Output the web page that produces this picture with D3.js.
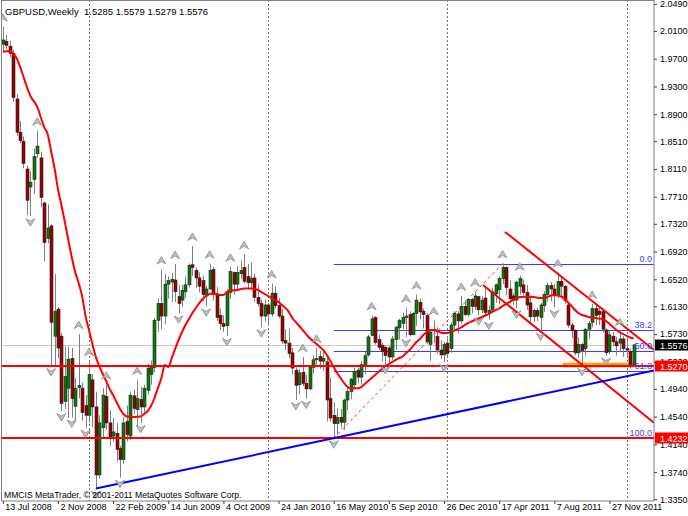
<!DOCTYPE html>
<html><head><meta charset="utf-8">
<script src="https://cdn.jsdelivr.net/npm/d3@7"></script>
<style>
body{margin:0;background:#fff;}
svg{display:block;}
text{font-family:"Liberation Sans",Arial,sans-serif;}
</style>
</head><body>
<svg id="c" width="688" height="516"></svg>
<script>
// ---------- DATA (weekly GBPUSD, first bar = week of 13 Jul 2008) ----------
const opens = [1.9910,1.9950,1.9880,1.9775,1.9120,1.8640,1.8510,1.8110,1.7850,1.7960,1.8330,1.8270,1.7620,1.7110,1.7290,1.5700,1.6090,1.5700,1.4760,1.4950,
1.5380,1.4690,1.4960,1.4950,1.4700,1.4560,1.5070,1.4680,1.3700,1.4380,1.4830,1.4450,1.4260,1.4300,1.4080,1.3920,1.4470,1.4260,1.4840,1.4640,
1.4790,1.4680,1.4920,1.5150,1.5250,1.5930,1.6170,1.5990,1.6450,1.6480,1.6510,1.6270,1.6220,1.6340,1.6440,1.6730,1.6650,1.6540,1.6500,1.6280,
1.6380,1.6660,1.6300,1.6000,1.5880,1.5850,1.6330,1.6620,1.6450,1.6600,1.6690,1.6560,1.6470,1.6540,1.6260,1.6170,1.5990,1.6150,1.6020,1.6320,
1.6140,1.5990,1.5640,1.5600,1.5460,1.5210,1.5000,1.5180,1.5020,1.4940,1.5250,1.5360,1.5410,1.5340,1.5330,1.4800,1.4560,1.4440,1.4530,1.4460,
1.4780,1.4900,1.5000,1.5210,1.5110,1.5280,1.5430,1.5710,1.5970,1.5650,1.5570,1.5540,1.5530,1.5400,1.5650,1.5820,1.5880,1.5970,1.6010,1.5720,
1.6030,1.6190,1.6060,1.6000,1.5580,1.5800,1.5700,1.5500,1.5430,1.5600,1.5520,1.5860,1.6020,1.5920,1.6130,1.6010,1.6230,1.6130,1.6270,1.6080,
1.6250,1.6040,1.6080,1.6310,1.6370,1.6530,1.6690,1.6380,1.6280,1.6220,1.6420,1.6440,1.6330,1.6180,1.5980,1.6070,1.5970,1.6140,1.6300,1.6430,
1.6380,1.6290,1.6490,1.6420,1.6150,1.5860,1.5780,1.5460,1.5580,1.5520,1.5800,1.5900,1.6100,1.6060,1.6060,1.5790,1.5480,1.5700,1.5620,1.5600,
1.5660,1.5520,1.5480,1.5285];
const highs = [2.0160,2.0040,1.9960,1.9830,1.9190,1.8800,1.8580,1.8160,1.8080,1.8400,1.8660,1.8360,1.7640,1.7600,1.7310,1.6600,1.6120,1.5750,1.5550,1.5550,
1.5530,1.5100,1.5730,1.5030,1.4850,1.5340,1.5150,1.4900,1.4560,1.4950,1.5000,1.4630,1.4520,1.4450,1.4120,1.4530,1.4700,1.4900,1.4930,1.5070,
1.4970,1.5000,1.5300,1.5350,1.5960,1.6240,1.6660,1.6600,1.6560,1.6610,1.6740,1.6440,1.6440,1.6560,1.6750,1.7000,1.6690,1.6620,1.6570,1.6430,
1.6745,1.6700,1.6410,1.6100,1.6000,1.6380,1.6700,1.6630,1.6710,1.6790,1.6880,1.6740,1.6760,1.6600,1.6450,1.6230,1.6230,1.6180,1.6460,1.6420,
1.6250,1.6090,1.5800,1.5810,1.5530,1.5250,1.5230,1.5400,1.5140,1.5280,1.5430,1.5530,1.5490,1.5480,1.5400,1.5100,1.4750,1.4660,1.4650,1.4800,
1.4950,1.5100,1.5250,1.5240,1.5340,1.5470,1.5720,1.6000,1.5990,1.5720,1.5600,1.5560,1.5560,1.5700,1.5850,1.5950,1.6040,1.6110,1.6060,1.6050,
1.6300,1.6240,1.6100,1.6030,1.5790,1.5930,1.5830,1.5640,1.5620,1.5700,1.5900,1.6060,1.6060,1.6280,1.6220,1.6250,1.6250,1.6340,1.6280,1.6280,
1.6400,1.6140,1.6400,1.6460,1.6560,1.6747,1.6710,1.6500,1.6320,1.6500,1.6570,1.6520,1.6440,1.6290,1.6100,1.6110,1.6180,1.6350,1.6470,1.6480,
1.6450,1.6618,1.6560,1.6440,1.6200,1.5890,1.5800,1.5680,1.5600,1.5820,1.5920,1.6165,1.6150,1.6110,1.6090,1.5810,1.5780,1.5760,1.5690,1.5770,
1.5700,1.5670,1.5520,1.5579];
const lows = [1.9790,1.9840,1.9720,1.9080,1.8590,1.8480,1.8120,1.7445,1.7430,1.7750,1.8270,1.7560,1.6780,1.7040,1.5270,1.5260,1.5380,1.4620,1.4650,1.4520,
1.4530,1.4470,1.4800,1.4480,1.4380,1.4450,1.4390,1.3503,1.3650,1.4220,1.4350,1.4110,1.4180,1.3900,1.3660,1.3860,1.4180,1.4200,1.4580,1.4400,
1.4450,1.4600,1.4860,1.5000,1.5180,1.5760,1.5800,1.5870,1.6240,1.6190,1.6190,1.6030,1.6120,1.6250,1.6400,1.6570,1.6400,1.6330,1.6200,1.6130,
1.6370,1.6220,1.5920,1.5790,1.5760,1.5705,1.6240,1.6300,1.6380,1.6530,1.6460,1.6370,1.6400,1.6200,1.6130,1.5830,1.5910,1.5850,1.5980,1.6100,
1.5960,1.5590,1.5500,1.5380,1.5150,1.4780,1.4860,1.4980,1.4800,1.4920,1.5160,1.5290,1.5230,1.5200,1.4470,1.4470,1.4229,1.4270,1.4380,1.4350,
1.4630,1.4790,1.4930,1.5020,1.5000,1.5150,1.5400,1.5700,1.5580,1.5500,1.5340,1.5300,1.5320,1.5360,1.5500,1.5650,1.5800,1.5690,1.5700,1.5720,
1.5850,1.5940,1.5810,1.5590,1.5340,1.5600,1.5450,1.5370,1.5330,1.5400,1.5460,1.5800,1.5740,1.5880,1.5990,1.5980,1.6030,1.6080,1.6000,1.6030,
1.6000,1.5940,1.6040,1.6180,1.6160,1.6450,1.6290,1.6170,1.6150,1.6100,1.6300,1.6290,1.6080,1.5910,1.5910,1.5920,1.5780,1.6050,1.6200,1.6200,
1.6110,1.6250,1.6290,1.6170,1.5820,1.5670,1.5430,1.5390,1.5272,1.5420,1.5660,1.5830,1.5860,1.5860,1.5750,1.5420,1.5440,1.5560,1.5420,1.5480,
1.5400,1.5420,1.5235,1.5279];
const closes = [1.9970,1.9890,1.9775,1.9140,1.8640,1.8520,1.8190,1.7660,1.7920,1.8290,1.8440,1.7700,1.7050,1.7260,1.5900,1.6060,1.5530,1.4730,1.5120,1.5370,
1.4800,1.4950,1.4990,1.4600,1.4560,1.5150,1.4680,1.3700,1.4450,1.4850,1.4450,1.4240,1.4320,1.4070,1.3920,1.4450,1.4280,1.4850,1.4660,1.4800,
1.4680,1.4950,1.5240,1.5260,1.5930,1.6170,1.5990,1.6450,1.6500,1.6520,1.6340,1.6170,1.6360,1.6440,1.6720,1.6690,1.6540,1.6420,1.6300,1.6380,
1.6650,1.6300,1.5970,1.5880,1.5840,1.6330,1.6630,1.6450,1.6620,1.6650,1.6490,1.6470,1.6530,1.6260,1.6170,1.5990,1.6150,1.6020,1.6320,1.6140,
1.5990,1.5630,1.5600,1.5450,1.5240,1.4990,1.5170,1.5020,1.4940,1.5250,1.5360,1.5380,1.5340,1.5380,1.4780,1.4520,1.4440,1.4530,1.4460,1.4780,
1.4900,1.5080,1.5190,1.5110,1.5290,1.5420,1.5690,1.5950,1.5610,1.5540,1.5480,1.5420,1.5400,1.5660,1.5830,1.5930,1.5970,1.5990,1.5720,1.6030,
1.6220,1.6050,1.6010,1.5620,1.5760,1.5780,1.5500,1.5430,1.5580,1.5450,1.5860,1.6030,1.5920,1.6130,1.6010,1.6230,1.6130,1.6280,1.6080,1.6220,
1.6040,1.6070,1.6340,1.6440,1.6530,1.6690,1.6400,1.6240,1.6220,1.6480,1.6530,1.6330,1.6150,1.5980,1.6070,1.5990,1.6150,1.6300,1.6430,1.6380,
1.6290,1.6490,1.6420,1.6210,1.5860,1.5780,1.5460,1.5580,1.5490,1.5800,1.5880,1.6100,1.6000,1.6010,1.5800,1.5460,1.5720,1.5620,1.5560,1.5660,
1.5520,1.5500,1.5290,1.5576];

// moving average (bar index, value)
const maBars = [0,2,3,4,5,7,8,10,11,12,13,14,15,16,17,18,19,20,21,22,23,24,25,26,27,28,29,30,31,32,33,34,35,36,38,40,41,42,43,44,45,46,47,48,49,50,
51,52,53,54,55,56,57,58,59,60,61,62,63,64,65,66,68,70,72,74,75,76,77,78,79,80,81,82,83,84,85,86,87,88,89,90,91,92,93,94,95,96,97,98,99,100,
101,102,103,104,105,106,107,108,109,110,111,112,113,114,115,116,117,118,119,120,121,122,123,124,125,126,127,128,129,130,131,132,133,134,135,136,137,138,139,140,
141,142,143,144,145,146,147,148,149,150,152,154,156,157,158,159,160,161,162,163,164,165,166,167,168,169,170,171,172,173,174,175,176,177,178,179,180,181,182,183];
const maValues = [1.9801,1.9810,1.9770,1.9710,1.9585,1.9293,1.9163,1.9006,1.8859,1.8715,1.8615,1.8370,1.8125,1.7822,1.7591,1.7346,1.7087,1.6842,1.6625,1.6467,1.6279,1.5991,1.5789,1.5587,1.5400,1.5270,1.5155,1.5054,1.4938,1.4852,1.4751,1.4650,1.4578,1.4542,1.4535,1.4542,1.4578,1.4621,1.4693,1.4809,1.4953,1.5097,1.5284,1.5256,1.5385,1.5515,
1.5645,1.5760,1.5861,1.5948,1.6034,1.6106,1.6178,1.6236,1.6279,1.6308,1.6315,1.6308,1.6294,1.6294,1.6337,1.6359,1.6366,1.6387,1.6387,1.6366,1.6337,1.6308,1.6279,1.6250,1.6222,1.6193,1.6149,1.6106,1.6049,1.5962,1.5904,1.5847,1.5789,1.5731,1.5674,1.5630,1.5587,1.5544,1.5501,1.5429,1.5342,1.5256,1.5169,1.5097,1.5025,1.4967,
1.4948,1.4948,1.4948,1.4967,1.5010,1.5054,1.5097,1.5140,1.5183,1.5227,1.5270,1.5299,1.5328,1.5357,1.5385,1.5407,1.5457,1.5501,1.5558,1.5616,1.5659,1.5717,1.5760,1.5789,1.5789,1.5775,1.5753,1.5746,1.5746,1.5765,1.5782,1.5803,1.5825,1.5861,1.5890,1.5912,1.5933,1.5955,1.5976,1.5998,
1.6020,1.6049,1.6077,1.6099,1.6135,1.6164,1.6193,1.6222,1.6243,1.6265,1.6269,1.6265,1.6250,1.6250,1.6265,1.6286,1.6294,1.6286,1.6272,1.6236,1.6186,1.6135,1.6077,1.6034,1.6005,1.5991,1.5976,1.5969,1.5962,1.5955,1.5943,1.5919,1.5876,1.5832,1.5789,1.5753,1.5731,1.5703,1.5681,1.5666];

// fractal bars
const upFractals = [0,10,22,25,30,39,46,50,55,60,66,70,78,87,91,107,117,120,125,133,137,145,150,161,171,179];
const downFractals = [8,14,17,20,24,27,34,40,51,59,65,75,85,88,96,111,117,128,138,141,149,156,160,168,175];

// time axis labels
const xTickBars = [0,16,32,48,64,80,96,112,128,144,160,176];
const xTickLabels = ["13 Jul 2008","2 Nov 2008","22 Feb 2009","14 Jun 2009","4 Oct 2009","24 Jan 2010","16 May 2010","5 Sep 2010","26 Dec 2010","17 Apr 2011","7 Aug 2011","27 Nov 2011"];
const separatorBars = [25,77,129,181];
// price axis labels
const yTicks = [2.0490,2.0100,1.9700,1.9300,1.8900,1.8510,1.8110,1.7710,1.7320,1.6920,1.6520,1.6130,1.5730,1.5330,1.4940,1.4540,1.4140,1.3740,1.3350];

// objects
const hLevels = [1.5270,1.4232];
const bidPrice = 1.5576;
const fibLevels = [0,38.2,50,61.8,100];
const fibLabels = ["0.0","38.2","50.0","61.8","100.0"];
const fibHigh = {bar:145, price:1.6747};
const fibLow = {bar:96, price:1.4229};
const blueTrend = [{bar:27,price:1.3503},{bar:96,price:1.4229}];
const redChannelA = [{bar:145.7,price:1.7202},{bar:188.9,price:1.5501}];
const redChannelB = [{bar:139.3,price:1.6438},{bar:188.9,price:1.4454}];
const orangeZone = {bar0:162.5, bar1:183.4, top:1.5318, bottom:1.5250};
const titleText = "GBPUSD,Weekly  1.5285 1.5579 1.5279 1.5576";
const copyright = "MMCIS MetaTrader, \u00A9 2001-2011 MetaQuotes Software Corp.";

// ---------- DRAW ----------
const svg = d3.select("#c");
const R = 654, B = 501;
const x = d3.scaleLinear().domain([0,183]).range([2.8,633.6]);
const y = d3.scaleLinear().domain([1.335,2.049]).range([499.2,3.9]);

svg.append("rect").attr("width",688).attr("height",516).attr("fill","#fff");
svg.append("defs").append("clipPath").attr("id","plot")
  .append("rect").attr("x",1.5).attr("y",0.5).attr("width",R-1.5).attr("height",B-0.5);
const g = svg.append("g").attr("clip-path","url(#plot)");

// period separators
g.selectAll("line.sep").data(separatorBars).join("line")
  .attr("x1",d=>Math.round(x(d))+0.5).attr("x2",d=>Math.round(x(d))+0.5)
  .attr("y1",0).attr("y2",B)
  .attr("stroke","#707070").attr("stroke-width",1).attr("stroke-dasharray","2,2");

// bid line
g.append("line").attr("x1",0).attr("x2",R).attr("y1",Math.round(y(bidPrice))+0.5).attr("y2",Math.round(y(bidPrice))+0.5)
  .attr("stroke","#c8c8c8").attr("stroke-width",1);

// fibonacci levels
const fibPrice = l => fibHigh.price - (fibHigh.price - fibLow.price)*l/100;
g.selectAll("line.fib").data(fibLevels).join("line")
  .attr("x1",x(fibLow.bar)).attr("x2",R)
  .attr("y1",d=>Math.round(y(fibPrice(d)))+0.5).attr("y2",d=>Math.round(y(fibPrice(d)))+0.5)
  .attr("stroke","#3c3cff").attr("stroke-width",1);
g.append("line").attr("x1",x(fibLow.bar)).attr("y1",y(fibLow.price))
  .attr("x2",x(fibHigh.bar)).attr("y2",y(fibHigh.price))
  .attr("stroke","#ff3030").attr("stroke-width",1).attr("stroke-dasharray","3,3");

// orange zone
g.append("rect").attr("x",x(orangeZone.bar0)).attr("width",x(orangeZone.bar1)-x(orangeZone.bar0))
  .attr("y",y(orangeZone.top)).attr("height",y(orangeZone.bottom)-y(orangeZone.top))
  .attr("fill","#ffa500");

// candles
const idx = d3.range(opens.length);
const cg = g.append("g");
cg.selectAll("line.wick").data(idx).join("line")
  .attr("x1",i=>Math.round(x(i))+0.5).attr("x2",i=>Math.round(x(i))+0.5)
  .attr("y1",i=>y(highs[i])).attr("y2",i=>y(lows[i]))
  .attr("stroke","#808080").attr("stroke-width",1);
cg.selectAll("rect.body").data(idx).join("rect")
  .attr("x",i=>Math.round(x(i))-1).attr("width",3)
  .attr("y",i=>y(Math.max(opens[i],closes[i])))
  .attr("height",i=>Math.max(1,Math.abs(y(opens[i])-y(closes[i]))))
  .attr("fill",i=>closes[i]>=opens[i]?"#0a7a0a":"#9a0000")
  .attr("stroke","#202020").attr("stroke-width",0.6);

// horizontal red levels
g.selectAll("line.h").data(hLevels).join("line")
  .attr("x1",0).attr("x2",R).attr("y1",d=>y(d)).attr("y2",d=>y(d))
  .attr("stroke","#ff0000").attr("stroke-width",2);

// moving average
g.append("path").datum(maBars.map((b,k)=>[x(b),y(maValues[k])]))
  .attr("d",d3.line().curve(d3.curveMonotoneX))
  .attr("fill","none").attr("stroke","#ff0000").attr("stroke-width",2);

// trend lines (extended to the right edge)
function extLine(p, color, w){
  const x1=x(p[0].bar), y1=y(p[0].price), x2=x(p[1].bar), y2=y(p[1].price);
  const s=(y2-y1)/(x2-x1);
  g.append("line").attr("x1",x1).attr("y1",y1).attr("x2",R).attr("y2",y1+s*(R-x1))
    .attr("stroke",color).attr("stroke-width",w);
}
extLine(redChannelA,"#ff0000",2);
extLine(redChannelB,"#ff0000",2);
extLine(blueTrend,"#0000ff",2);

// fractals
const upPath = "M0,-4 L4.5,3.5 L0,1 L-4.5,3.5 Z";
const dnPath = "M0,4 L4.5,-3.5 L0,-1 L-4.5,-3.5 Z";
g.selectAll("path.fu").data(upFractals).join("path")
  .attr("d",upPath).attr("transform",i=>`translate(${x(i)},${y(highs[i])-9})`)
  .attr("fill","#c0c0c0").attr("stroke","#8a8a8a").attr("stroke-width",0.8);
g.selectAll("path.fd").data(downFractals).join("path")
  .attr("d",dnPath).attr("transform",i=>`translate(${x(i)},${y(lows[i])+6})`)
  .attr("fill","#c0c0c0").attr("stroke","#8a8a8a").attr("stroke-width",0.8);

// fib labels
g.selectAll("text.fl").data(fibLevels).join("text")
  .attr("x",652).attr("y",d=>Math.round(y(fibPrice(d)))-2)
  .attr("text-anchor","end").attr("font-size",9).attr("fill","#3c3cff")
  .text((d,k)=>fibLabels[k]);

// texts
svg.append("text").attr("x",5).attr("y",15).attr("font-size",9.5).attr("fill","#000")
  .style("white-space","pre").text(titleText);
svg.append("text").attr("x",4).attr("y",498).attr("font-size",8.6).attr("fill","#000")
  .text(copyright);

// frame
svg.append("rect").attr("x",1.5).attr("y",0.5).attr("width",R-1.5).attr("height",B-0.5)
  .attr("fill","none").attr("stroke","#808080").attr("stroke-width",1);

// axes
const ya = svg.append("g").attr("transform",`translate(${R},0)`)
  .call(d3.axisRight(y).tickValues(yTicks).tickSize(3).tickFormat(d3.format(".4f")));
ya.select(".domain").remove();
ya.selectAll("line").attr("stroke","#404040");
ya.selectAll("text").attr("font-size",9).attr("fill","#000").attr("font-family","Liberation Sans, Arial, sans-serif");

const xa = svg.append("g").attr("transform",`translate(0,${B})`)
  .call(d3.axisBottom(x).tickValues(xTickBars).tickSize(3).tickFormat((d,k)=>xTickLabels[k]));
xa.select(".domain").remove();
xa.selectAll("line").attr("stroke","#404040");
xa.selectAll("text").attr("font-size",9).attr("fill","#000").attr("text-anchor","start")
  .attr("x",2).attr("y",3).attr("font-family","Liberation Sans, Arial, sans-serif");

// price tags
const tagValues = [bidPrice, hLevels[0], hLevels[1]];
const tagFill = ["#000","#ff0000","#ff0000"];
const tg = svg.selectAll("g.tag").data(tagValues).join("g")
  .attr("transform",d=>`translate(${R+1},${Math.round(y(d))})`);
tg.append("rect").attr("x",0).attr("y",-5.5).attr("width",34).attr("height",11)
  .attr("fill",(d,k)=>tagFill[k]);
tg.append("text").attr("x",5).attr("y",3.5).attr("font-size",9).attr("fill","#fff")
  .text(d=>d3.format(".4f")(d));
</script>
</body></html>
